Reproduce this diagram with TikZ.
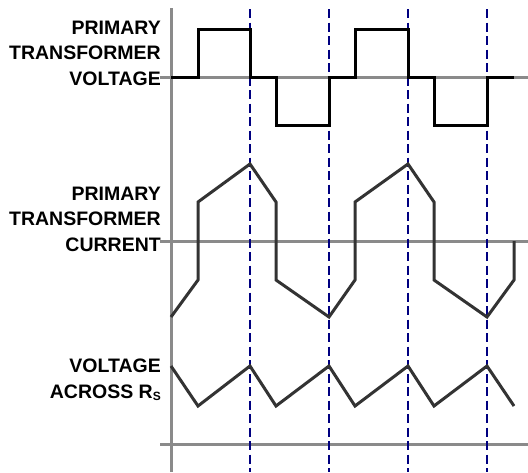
\documentclass[tikz,border=0pt]{standalone}
\usepackage{fontspec}
\setmainfont{Liberation Sans}
\definecolor{axisgray}{HTML}{8A8A8A}
\definecolor{curvegray}{HTML}{333333}
\definecolor{dashblue}{HTML}{000080}
\tikzset{
  axisline/.style={draw=axisgray, line width=3pt},
  markline/.style={draw=dashblue, line width=1.8pt, dash pattern=on 9pt off 4.5pt},
  wavev/.style={draw=black, line width=3pt, line join=miter},
  wavec/.style={draw=curvegray, line width=3pt, line join=miter},
  lbl/.style={anchor=base east, align=right, inner sep=0pt, font=\fontsize{19.5}{25.5}\selectfont\bfseries}
}
\begin{document}
\begin{tikzpicture}[x=1pt, y=-1pt]
\useasboundingbox[fill=white] (0,0) rectangle (528,472);
% axes
\draw[axisline] (171,8) -- (171,472);
\draw[axisline] (160,77) -- (528,77);
\draw[axisline] (160,241) -- (528,241);
\draw[axisline] (160,444) -- (528,444);
% dashed markers
\foreach \x in {250,329,408,487} \draw[markline] (\x,9) -- (\x,472);
% primary voltage
\draw[wavev] (171,77) -- (198,77) -- (198,29) -- (250,29) -- (250,77) -- (276,77) -- (276,125) -- (329,125) -- (329,77) -- (355,77) -- (355,29) -- (408,29) -- (408,77) -- (434,77) -- (434,125) -- (487,125) -- (487,77) -- (514,77);
% primary current
\draw[wavec] (171,317) -- (198,280) -- (198,202) -- (250,164) -- (276,202) -- (276,280) -- (329,317) -- (355,280) -- (355,202) -- (408,164) -- (434,202) -- (434,280) -- (487,317) -- (514,280) -- (514,241);
% voltage across Rs
\draw[wavec] (171,366) -- (198,406) -- (250,366) -- (276,406) -- (329,366) -- (355,406) -- (408,366) -- (434,406) -- (487,366) -- (514,406);
% labels
\node[lbl] (lv) at (161,85) {PRIMARY\\TRANSFORMER\\VOLTAGE};
\node[lbl] (lc) at (161,251) {PRIMARY\\TRANSFORMER\\CURRENT};
\node[lbl, font=\fontsize{19.5}{26}\selectfont\bfseries] (lr) at (161,398) {VOLTAGE\\ACROSS R\raisebox{-2pt}{\fontsize{12}{12}\selectfont S}};
\end{tikzpicture}
\end{document}
